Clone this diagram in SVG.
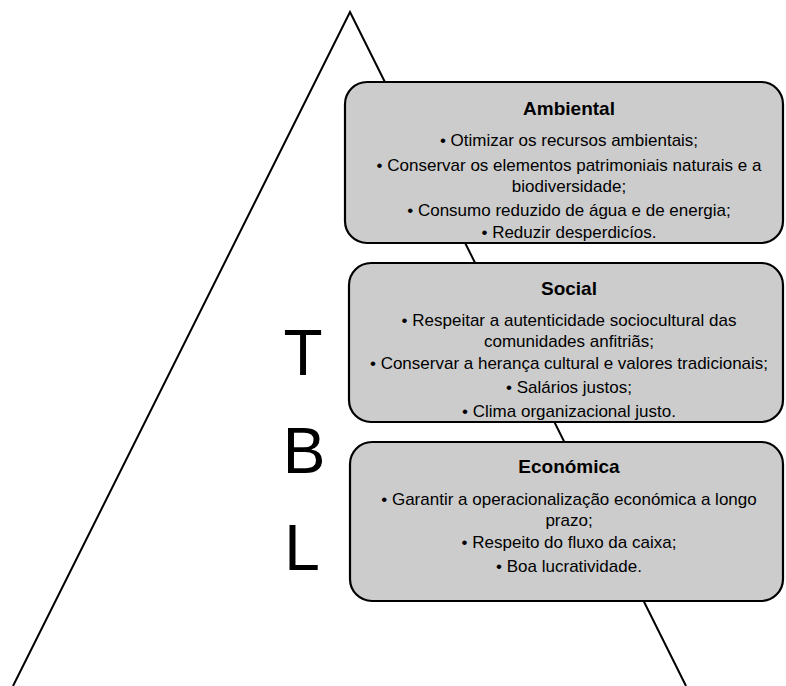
<svg xmlns="http://www.w3.org/2000/svg" width="786" height="686" viewBox="0 0 786 686">
<style>
.box{fill:#cccccc;stroke:#000;stroke-width:2.2}
.tri{fill:none;stroke:#000;stroke-width:2}
.t{font-family:"Liberation Sans",Arial,sans-serif;font-size:17px;fill:#000;text-anchor:middle}
.h{font-family:"Liberation Sans",Arial,sans-serif;font-size:19px;font-weight:bold;fill:#000;text-anchor:middle}
.big{font-family:"Liberation Sans",Arial,sans-serif;font-size:64px;fill:#000;text-anchor:middle}
</style>
<rect width="786" height="686" fill="#fff"/>
<g id="connectors">
<polyline class="tri" points="13,686 350,12 686,686"/>
</g>
<g id="tbl">
<text class="big" x="303" y="375">T</text>
<text class="big" x="304" y="473">B</text>
<text class="big" x="302" y="570">L</text>
</g>
<g id="ambiental">
<rect class="box" x="345" y="82" width="438" height="161" rx="22" ry="22"/>
<text class="h" x="569" y="115">Ambiental</text>
<text class="t" x="569" y="146">• Otimizar os recursos ambientais;</text>
<text class="t" x="569" y="171">• Conservar os elementos patrimoniais naturais e a</text>
<text class="t" x="569" y="192">biodiversidade;</text>
<text class="t" x="569" y="216">• Consumo reduzido de água e de energia;</text>
<text class="t" x="569" y="238">• Reduzir desperdicíos.</text>
</g>
<g id="social">
<rect class="box" x="349" y="263" width="434" height="159" rx="22" ry="22"/>
<text class="h" x="569" y="295">Social</text>
<text class="t" x="569" y="326">• Respeitar a autenticidade sociocultural das</text>
<text class="t" x="569" y="347">comunidades anfitriãs;</text>
<text class="t" x="569" y="369">• Conservar a herança cultural e valores tradicionais;</text>
<text class="t" x="569" y="393">• Salários justos;</text>
<text class="t" x="569" y="417">• Clima organizacional justo.</text>
</g>
<g id="economica">
<rect class="box" x="350" y="442" width="433" height="159" rx="22" ry="22"/>
<text class="h" x="569" y="473">Económica</text>
<text class="t" x="569" y="505">• Garantir a operacionalização económica a longo</text>
<text class="t" x="569" y="526">prazo;</text>
<text class="t" x="569" y="548">• Respeito do fluxo da caixa;</text>
<text class="t" x="569" y="572">• Boa lucratividade.</text>
</g>
</svg>
